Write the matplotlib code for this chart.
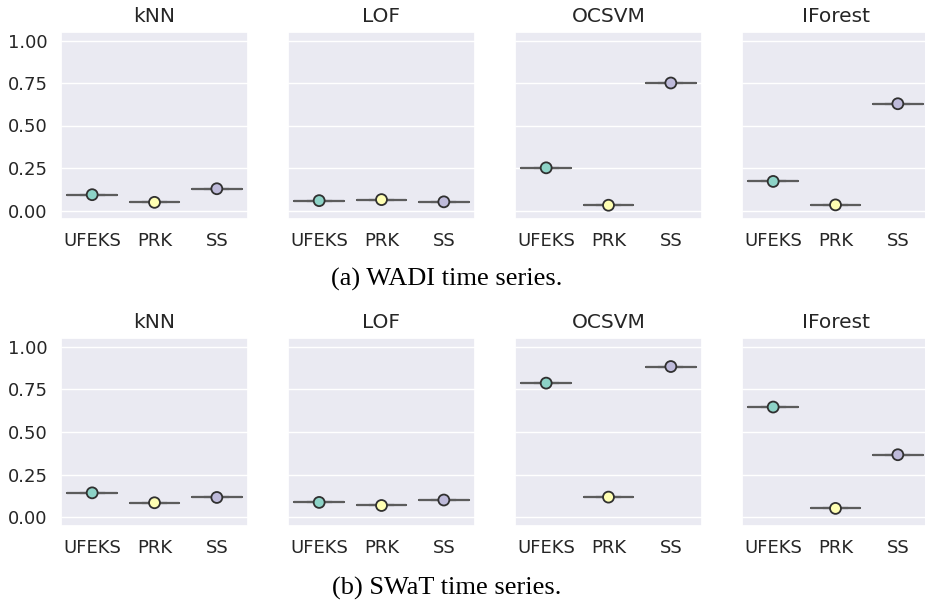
"""Score spread per detector for the WADI and SWaT time series.

One strip of four panels per dataset (kNN / LOF / OCSVM / IForest); each panel
shows the three scoring methods as a collapsed box with the value on top.
"""
import matplotlib
matplotlib.use("Agg")
import matplotlib.pyplot as plt
import seaborn as sns

METHODS = ["UFEKS", "PRK", "SS"]
DETECTORS = ["kNN", "LOF", "OCSVM", "IForest"]

# one value per method, per detector
WADI_KNN = [0.093, 0.048, 0.128]
WADI_LOF = [0.058, 0.064, 0.051]
WADI_OCSVM = [0.251, 0.031, 0.750]
WADI_IFOREST = [0.171, 0.033, 0.628]

SWAT_KNN = [0.144, 0.086, 0.117]
SWAT_LOF = [0.088, 0.070, 0.102]
SWAT_OCSVM = [0.786, 0.119, 0.883]
SWAT_IFOREST = [0.646, 0.053, 0.367]

CAPTIONS = ["(a) WADI time series.", "(b) SWaT time series."]
YTICKS = [0.00, 0.25, 0.50, 0.75, 1.00]

COLORS = sns.color_palette("Set3", 3)
LINE = "#5c5c5c"
EDGE = "#303030"

sns.set_theme(style="darkgrid")
plt.rcParams["font.family"] = ["DejaVu Sans"]

W, H = 925, 610
LEFTS = [61, 288, 515, 742]
AX_W = 187
ROWS = [(32, 219), (338, 526)]  # top / bottom pixel edge of each row
CAPTION_Y = [286, 595]          # caption baselines, pixels from the top


def draw_panel(ax, values, title, first):
    pos = list(range(len(METHODS)))
    line = dict(color=LINE, linewidth=1.5)
    ax.boxplot([[v] for v in values], positions=pos, widths=0.8,
               showfliers=False, patch_artist=False,
               boxprops=line, medianprops=line, whiskerprops=line,
               capprops=line)
    ax.scatter(pos, values, s=62, c=COLORS, edgecolors=EDGE,
               linewidths=1.3, zorder=3)
    ax.set_xlim(-0.5, 2.5)
    ax.set_ylim(-0.05, 1.05)
    ax.set_xticks(pos)
    ax.set_xticklabels(METHODS)
    ax.set_yticks(YTICKS)
    ax.set_yticklabels([f"{t:.2f}" for t in YTICKS] if first else [])
    ax.grid(False, axis="x")
    ax.tick_params(labelsize=13, colors="#262626")
    ax.set_title(title, fontsize=14.5, color="#262626", pad=7)


fig = plt.figure(figsize=(W / 100, H / 100), dpi=100)
data = [
    [WADI_KNN, WADI_LOF, WADI_OCSVM, WADI_IFOREST],
    [SWAT_KNN, SWAT_LOF, SWAT_OCSVM, SWAT_IFOREST],
]
for (top, bottom), row in zip(ROWS, data):
    for i, (left, vals, name) in enumerate(zip(LEFTS, row, DETECTORS)):
        ax = fig.add_axes([left / W, 1 - bottom / H, AX_W / W, (bottom - top) / H])
        draw_panel(ax, vals, name, i == 0)

for y, cap in zip(CAPTION_Y, CAPTIONS):
    fig.text(447 / W, 1 - y / H, cap, ha="center", va="baseline",
             fontsize=19, family="Liberation Serif", color="black")

fig.savefig("out.png", dpi=100)
